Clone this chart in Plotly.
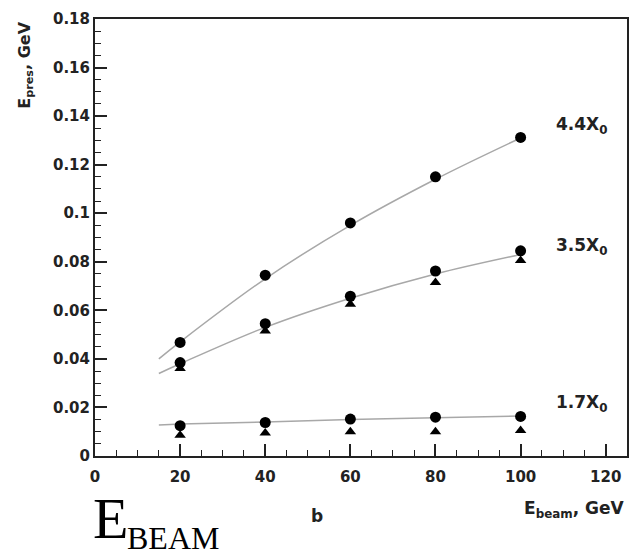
import plotly.graph_objects as go

# ---- data ----
energy = [20, 40, 60, 80, 100]
circ_44 = [0.0468, 0.0745, 0.0960, 0.1150, 0.1312]
circ_35 = [0.0385, 0.0545, 0.0658, 0.0762, 0.0845]
tri_35 = [0.0360, 0.0515, 0.0625, 0.0715, 0.0805]
circ_17 = [0.0125, 0.0138, 0.0152, 0.0160, 0.0163]
tri_17 = [0.0085, 0.0095, 0.0100, 0.0100, 0.0105]

fit_x = [15, 20, 40, 60, 80, 100]
fit_44 = [0.0400, 0.0470, 0.0730, 0.0950, 0.1140, 0.1310]
fit_35 = [0.0340, 0.0380, 0.0530, 0.0650, 0.0750, 0.0830]
fit_17 = [0.0128, 0.0132, 0.0140, 0.0150, 0.0158, 0.0165]

x_ticks = [0, 20, 40, 60, 80, 100, 120]
y_ticks = [0, 0.02, 0.04, 0.06, 0.08, 0.1, 0.12, 0.14, 0.16, 0.18]
y_ticktext = ["0", "0.02", "0.04", "0.06", "0.08", "0.1", "0.12", "0.14", "0.16", "0.18"]

labels = ["4.4X<sub>0</sub>", "3.5X<sub>0</sub>", "1.7X<sub>0</sub>"]
label_y = [0.1363, 0.0864, 0.0218]

fig = go.Figure()
for fy in (fit_44, fit_35, fit_17):
    fig.add_trace(go.Scatter(x=fit_x, y=fy, mode="lines", line=dict(color="#a8a8a8", width=1.5, shape="spline"),
                             showlegend=False, hoverinfo="skip"))
for ty in (tri_35, tri_17):
    fig.add_trace(go.Scatter(x=energy, y=ty, mode="markers",
                             marker=dict(symbol="triangle-up", size=10, color="black"), showlegend=False))
for cy in (circ_44, circ_35, circ_17):
    fig.add_trace(go.Scatter(x=energy, y=cy, mode="markers",
                             marker=dict(symbol="circle", size=11, color="black"), showlegend=False))

tickfont = dict(family="DejaVu Sans", size=15, color="#222", weight="bold")
fig.update_xaxes(range=[0, 125], tickvals=x_ticks, ticks="inside", ticklen=12,
                 tickwidth=1.5, tickcolor="#222", showline=True, linecolor="#222", linewidth=2, mirror=True,
                 showgrid=False, zeroline=False, tickfont=tickfont, ticklabelstandoff=6,
                 minor=dict(ticks="inside", ticklen=6, dtick=5, tickcolor="#222", tickwidth=1.2))
fig.update_yaxes(range=[0, 0.18], tickvals=y_ticks, ticktext=y_ticktext,
                 ticks="inside", ticklen=12, tickwidth=1.5, tickcolor="#222", showline=True, linecolor="#222",
                 linewidth=2, mirror=True, showgrid=False, zeroline=False, tickfont=tickfont,
                 minor=dict(ticks="inside", ticklen=6, dtick=0.005, tickcolor="#222", tickwidth=1.2))

sans_b = dict(family="DejaVu Sans", color="#222", weight="bold")
ann = []
for t, y in zip(labels, label_y):
    ann.append(dict(x=114.4, y=y, xref="x", yref="y", text=t, showarrow=False, font=dict(size=17, **sans_b)))
ann.append(dict(x=-0.13, y=0.895, xref="paper", yref="paper", text="E<sub>pres</sub>, GeV", textangle=-90,
                xanchor="center", yanchor="middle", showarrow=False, font=dict(size=16, **sans_b)))
ann.append(dict(x=0.90, y=-0.123, xref="paper", yref="paper", text="E<sub>beam</sub>, GeV",
                xanchor="center", yanchor="middle", showarrow=False, font=dict(size=17, **sans_b)))
ann.append(dict(x=0.417, y=-0.137, xref="paper", yref="paper", text="b",
                xanchor="center", yanchor="middle", showarrow=False, font=dict(size=17, **sans_b)))
ann.append(dict(x=-0.008, y=-0.222, xref="paper", yref="paper", text="E", xanchor="left", yanchor="bottom",
                showarrow=False, font=dict(family="Liberation Serif, Times New Roman", size=58, color="black")))
ann.append(dict(x=0.056, y=-0.2325, xref="paper", yref="paper", text="BEAM", xanchor="left", yanchor="bottom",
                showarrow=False, font=dict(family="Liberation Serif, Times New Roman", size=32, color="black")))
fig.update_layout(width=639, height=560, margin=dict(l=95, r=12, t=10, b=104),
                  paper_bgcolor="white", plot_bgcolor="white", annotations=ann)
fig.write_html("out.html", config={"displayModeBar": False},
               post_script="document.body.style.margin='0';")
